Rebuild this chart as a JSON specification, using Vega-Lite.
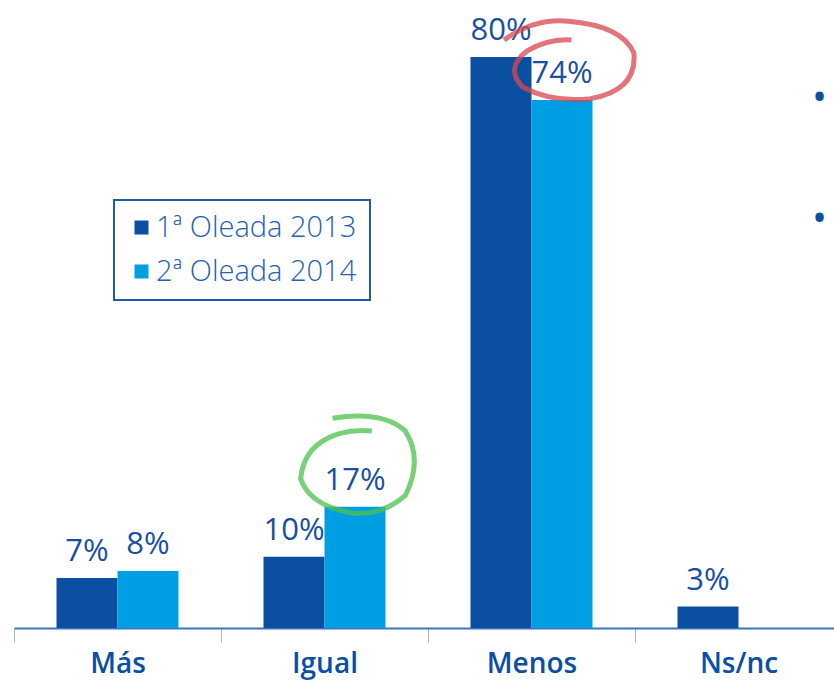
{
  "$schema": "https://vega.github.io/schema/vega-lite/v6.json",
  "width": 828,
  "height": 628,
  "autosize": {"type": "none"},
  "padding": {"left": 14, "top": 0, "right": 0, "bottom": 53},
  "background": "white",
  "config": {
    "view": {"stroke": null},
    "font": "Open Sans",
    "legend": {"strokeWidth": 2, "strokeColor": "#1f5ba8"}
  },
  "data": {
    "values": [
      {"categoria": "Más", "serie": "1ª Oleada 2013", "valor": 0.07, "destacado": ""},
      {"categoria": "Más", "serie": "2ª Oleada 2014", "valor": 0.08, "destacado": ""},
      {"categoria": "Igual", "serie": "1ª Oleada 2013", "valor": 0.10, "destacado": ""},
      {"categoria": "Igual", "serie": "2ª Oleada 2014", "valor": 0.17, "destacado": "sube"},
      {"categoria": "Menos", "serie": "1ª Oleada 2013", "valor": 0.80, "destacado": ""},
      {"categoria": "Menos", "serie": "2ª Oleada 2014", "valor": 0.74, "destacado": "baja"},
      {"categoria": "Ns/nc", "serie": "1ª Oleada 2013", "valor": 0.03, "destacado": ""}
    ]
  },
  "encoding": {
    "x": {
      "field": "categoria",
      "type": "nominal",
      "sort": ["Más", "Igual", "Menos", "Ns/nc"],
      "scale": {"domain": ["Más", "Igual", "Menos", "Ns/nc"], "paddingInner": 0, "paddingOuter": 0},
      "axis": {
        "title": null,
        "labelAngle": 0,
        "labelFontSize": 28,
        "labelFontWeight": 600,
        "labelColor": "#0b4ea2",
        "labelFont": "Open Sans",
        "labelBaseline": "alphabetic",
        "labelPadding": 30,
        "domainColor": "#3a74bd",
        "domainWidth": 2,
        "tickBand": "extent",
        "tickColor": "#9ab6dc",
        "tickWidth": 1,
        "tickSize": 14,
        "grid": false
      }
    },
    "y": {
      "field": "valor",
      "type": "quantitative",
      "scale": {"domain": [0, 0.88], "nice": false},
      "axis": null
    }
  },
  "layer": [
    {
      "mark": {"type": "bar"},
      "encoding": {
        "xOffset": {
          "field": "serie",
          "type": "nominal",
          "scale": {"domain": ["1ª Oleada 2013", "2ª Oleada 2014"], "paddingInner": 0, "paddingOuter": 0.697}
        },
        "color": {
          "field": "serie",
          "type": "nominal",
          "scale": {"domain": ["1ª Oleada 2013", "2ª Oleada 2014"], "range": ["#0b4fa3", "#009fe3"]},
          "legend": {
            "title": null,
            "orient": "none",
            "legendX": 100,
            "legendY": 200,
            "symbolType": "square",
            "symbolSize": 196,
            "symbolStrokeWidth": 0,
            "labelFontSize": 29,
            "labelFontWeight": 300,
            "labelColor": "#2862ad",
            "labelFont": "Open Sans",
            "labelLimit": 400,
            "labelOffset": 0,
            "rowPadding": 14,
            "padding": 13,
            "fillColor": "white"
          }
        }
      }
    },
    {
      "mark": {"type": "text", "baseline": "alphabetic", "dy": -17, "fontSize": 31, "color": "#1a4f9f"},
      "encoding": {
        "xOffset": {"field": "serie", "type": "nominal"},
        "text": {"field": "valor", "type": "quantitative", "format": ".0%"}
      }
    },
    {
      "transform": [{"filter": "datum.destacado == 'baja'"}],
      "mark": {
        "type": "point",
        "shape": "M -0.92 -0.95 Q -0.45 -1.3 0.1 -1.25 Q 0.95 -1.18 1.14 -0.75 Q 1.2 -0.15 0.45 -0.02 Q -0.15 0.05 -0.62 -0.2 Q -0.92 -0.5 -0.55 -0.78 Q -0.2 -0.98 0.15 -0.95",
        "size": 15876,
        "filled": false,
        "color": "#d9474f",
        "strokeWidth": 5,
        "opacity": 0.75
      },
      "encoding": {
        "xOffset": {"field": "serie", "type": "nominal"}
      }
    },
    {
      "transform": [{"filter": "datum.destacado == 'sube'"}],
      "mark": {
        "type": "point",
        "shape": "M -0.4 -1.58 Q 0.5 -1.72 0.9 -1.35 Q 1.22 -0.85 0.9 -0.2 Q 0.5 0.15 0 0.12 Q -0.8 0 -0.97 -0.5 Q -0.92 -1.1 -0.3 -1.3 Q 0 -1.38 0.3 -1.35",
        "size": 12544,
        "filled": false,
        "color": "#4cc24c",
        "strokeWidth": 5,
        "opacity": 0.75
      },
      "encoding": {
        "xOffset": {"field": "serie", "type": "nominal"}
      }
    },
    {
      "data": {"values": [{"categoria": "Ns/nc", "valor": 0.741}, {"categoria": "Ns/nc", "valor": 0.5715}]},
      "mark": {"type": "text", "text": "•", "fontSize": 40, "dx": 81, "baseline": "middle", "color": "#0b4fa3"}
    }
  ]
}
